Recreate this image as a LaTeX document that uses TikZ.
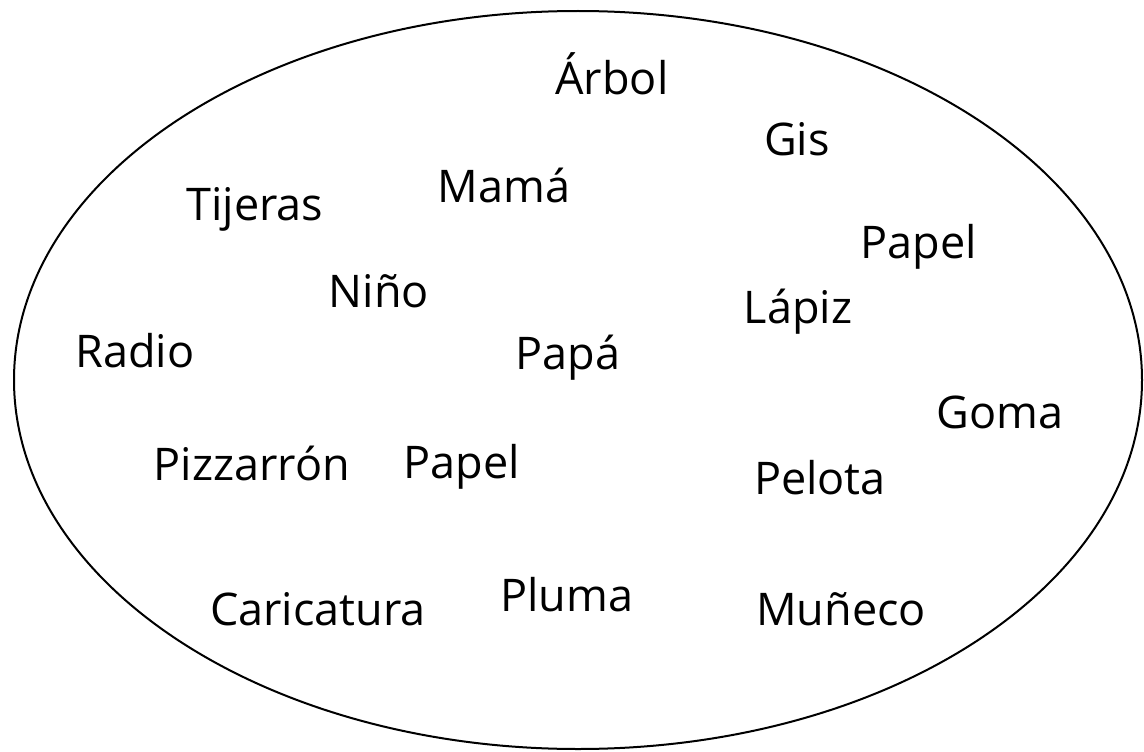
\documentclass[tikz,border=0pt]{standalone}
\usepackage{fontspec}
\usetikzlibrary{shapes.geometric}
\setmainfont{Open Sans}
\begin{document}
\begin{tikzpicture}[x=1pt,y=-1pt,
  word/.style={font=\fontsize{45}{50}\selectfont, inner sep=0pt, anchor=base}]
\useasboundingbox (0,0) rectangle (1144,752);
\node[draw, line width=2pt, ellipse, minimum width=1128pt, minimum height=738pt, inner sep=0pt] (oval) at (578,380) {};
\node[word] (w1) at (612,95) {Árbol};
\node[word] (w2) at (797,155) {Gis};
\node[word] (w3) at (504,202) {Mamá};
\node[word] (w4) at (255,220) {Tijeras};
\node[word] (w5) at (919,258) {Papel};
\node[word] (w6) at (379,307) {Niño};
\node[word] (w7) at (798,323) {Lápiz};
\node[word] (w8) at (135,367) {Radio};
\node[word] (w9) at (568,369) {Papá};
\node[word] (w10) at (1000,428) {Goma};
\node[word] (w11) at (252,480) {Pizzarrón};
\node[word] (w12) at (462,478) {Papel};
\node[word] (w13) at (820,494) {Pelota};
\node[word] (w14) at (318,625) {Caricatura};
\node[word] (w15) at (567,611) {Pluma};
\node[word] (w16) at (841,625) {Muñeco};
\end{tikzpicture}
\end{document}
